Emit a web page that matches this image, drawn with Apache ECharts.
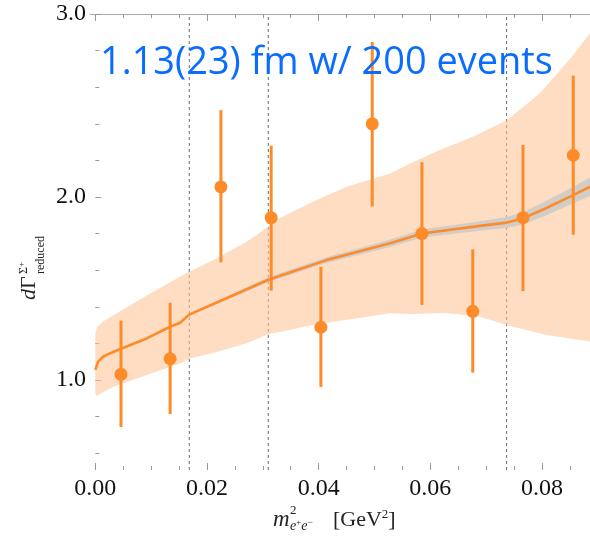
<!DOCTYPE html>
<html>
<head>
<meta charset="utf-8">
<script src="https://cdn.jsdelivr.net/npm/echarts@6/dist/echarts.min.js"></script>
<style>
html,body{margin:0;padding:0;background:#fff;}
#chart{width:590px;height:538px;}
</style>
</head>
<body>
<div id="chart"></div>
<script>
// ---- data ----
const titleText = '1.13(23) fm w/ 200 events';
const ptX = [0.0046, 0.0134, 0.0225, 0.0315, 0.0404, 0.0496, 0.0585, 0.0676, 0.0766, 0.0856];
const ptY = [1.031, 1.116, 2.055, 1.887, 1.288, 2.40, 1.80, 1.375, 1.887, 2.228];
const errHi = [1.324, 1.422, 2.475, 2.28, 1.619, 2.847, 2.19, 1.714, 2.284, 2.663];
const errLo = [0.743, 0.814, 1.643, 1.488, 0.962, 1.948, 1.41, 1.04, 1.486, 1.794];

const lineX = [0, 0.0005, 0.0014, 0.0026, 0.0046, 0.0092, 0.0134, 0.0152, 0.0168, 0.0241, 0.0310, 0.0414, 0.0528, 0.0585, 0.0689, 0.0737, 0.0766, 0.0808, 0.0856, 0.0886];
const lineY = [1.055, 1.10, 1.127, 1.145, 1.171, 1.227, 1.291, 1.313, 1.357, 1.455, 1.548, 1.655, 1.747, 1.80, 1.842, 1.86, 1.883, 1.94, 2.01, 2.056];
const grayUpper = [1.059, 1.104, 1.131, 1.149, 1.175, 1.231, 1.295, 1.317, 1.363, 1.465, 1.561, 1.671, 1.767, 1.822, 1.868, 1.89, 1.917, 1.98, 2.056, 2.106];
const grayLower = [1.051, 1.096, 1.123, 1.141, 1.167, 1.223, 1.287, 1.309, 1.351, 1.445, 1.535, 1.639, 1.727, 1.778, 1.816, 1.83, 1.849, 1.90, 1.964, 2.006];

const bandUpX = [0, 0.0003, 0.0014, 0.0092, 0.0152, 0.0168, 0.0212, 0.0271, 0.0310, 0.0318, 0.0390, 0.0450, 0.0528, 0.0566, 0.0617, 0.0677, 0.0737, 0.0796, 0.0856, 0.0886];
const bandUpY = [1.25, 1.29, 1.32, 1.462, 1.565, 1.592, 1.656, 1.756, 1.838, 1.866, 1.974, 2.056, 2.129, 2.186, 2.257, 2.33, 2.42, 2.566, 2.776, 2.895];
const bandLoX = [0, 0.0003, 0.0032, 0.0092, 0.0152, 0.0170, 0.0211, 0.0271, 0.0310, 0.0390, 0.0528, 0.0569, 0.0629, 0.0689, 0.0737, 0.0808, 0.0886];
const bandLoY = [0.925, 0.912, 0.963, 1.027, 1.09, 1.118, 1.147, 1.20, 1.25, 1.30, 1.364, 1.36, 1.366, 1.346, 1.30, 1.246, 1.21];

const dashedX = [0.01683, 0.03098, 0.07366];

const xMajor = [0, 0.02, 0.04, 0.06, 0.08];
const xMinor = [0.005, 0.01, 0.015, 0.025, 0.03, 0.035, 0.045, 0.05, 0.055, 0.065, 0.07, 0.075, 0.085];
const yMajor = [1, 2, 3];
const yMinor = [0.6, 0.8, 1.2, 1.4, 1.6, 1.8, 2.2, 2.4, 2.6, 2.8];

// ---- layout ----
const X_MIN = -0.00095, X_MAX = 0.0886;
const Y_MIN = 0.508, Y_MAX = 3.0;
const ORANGE = '#fd8b2a';
const SERIF = '"Liberation Serif", "DejaVu Serif", serif';

function bandSeries(upX, upY, loX, loY, fill, z) {
  return {
    type: 'custom', z: z, silent: true, clip: true,
    data: [[upX[0], upY[0]]],
    renderItem: function (params, api) {
      const pts = [];
      for (let i = 0; i < upX.length; i++) pts.push(api.coord([upX[i], upY[i]]));
      for (let i = loX.length - 1; i >= 0; i--) pts.push(api.coord([loX[i], loY[i]]));
      return { type: 'polygon', shape: { points: pts }, style: { fill: fill } };
    }
  };
}

function xAxisDef(pos, ticks, len, withLabels, withLine) {
  return {
    type: 'value', gridIndex: 0, position: pos, min: X_MIN, max: X_MAX,
    axisLine: { show: withLine, lineStyle: { color: '#aaa', width: 1 } },
    axisTick: { show: true, inside: true, length: len, customValues: ticks, lineStyle: { color: '#999', width: 1 } },
    axisLabel: withLabels ? {
      show: true, customValues: ticks, margin: 7,
      formatter: v => Number(v).toFixed(2),
      fontFamily: SERIF, fontSize: 24, color: '#111'
    } : { show: false },
    splitLine: { show: false }
  };
}
function yAxisDef(ticks, len, withLabels) {
  return {
    type: 'value', gridIndex: 0, position: 'left', min: Y_MIN, max: Y_MAX,
    axisLine: { show: false },
    axisTick: { show: true, inside: true, length: len, customValues: ticks, lineStyle: { color: '#999', width: 1 } },
    axisLabel: withLabels ? {
      show: true, customValues: ticks, margin: 4,
      formatter: v => Number(v).toFixed(1),
      fontFamily: SERIF, fontSize: 24, color: '#111'
    } : { show: false },
    splitLine: { show: false }
  };
}

// fit title font to measured width
let titleSize = 38;
try {
  const c = document.createElement('canvas').getContext('2d');
  c.font = '100px "Open Sans"';
  const w = c.measureText(titleText).width;
  if (w > 0) titleSize = 100 * 453 / w;
} catch (e) {}

const chart = echarts.init(document.getElementById('chart'), null, { renderer: 'canvas' });
chart.setOption({
  animation: false,
  backgroundColor: '#fff',
  grid: { left: 90, top: 14, right: 0, bottom: 68, containLabel: false },
  xAxis: [
    xAxisDef('bottom', xMajor, 7, true, false),
    xAxisDef('bottom', xMinor, 4, false, false),
    xAxisDef('top', xMajor, 7, false, true),
    xAxisDef('top', xMinor, 4, false, false)
  ],
  yAxis: [
    yAxisDef(yMajor, 6, true),
    yAxisDef(yMinor, 4, false)
  ],
  series: [
    {
      type: 'custom', z: 1, silent: true, clip: true,
      data: dashedX.map(v => [v]),
      renderItem: function (params, api) {
        const a = api.coord([api.value(0), Y_MIN]);
        const b = api.coord([api.value(0), Y_MAX]);
        return { type: 'line', shape: { x1: a[0], y1: a[1], x2: b[0], y2: b[1] },
                 style: { stroke: '#6a6a6a', lineWidth: 1, lineDash: [3, 3] } };
      }
    },
    bandSeries(bandUpX, bandUpY, bandLoX, bandLoY, 'rgba(253,197,150,0.58)', 2),
    bandSeries(lineX, grayUpper, lineX, grayLower, '#d3cdc8', 3),
    {
      type: 'line', z: 4, silent: true, showSymbol: false,
      data: lineX.map((x, i) => [x, lineY[i]]),
      lineStyle: { color: ORANGE, width: 2.6 }
    },
    {
      type: 'custom', z: 5, silent: true,
      data: ptX.map((x, i) => [x, errLo[i], errHi[i]]),
      renderItem: function (params, api) {
        const a = api.coord([api.value(0), api.value(1)]);
        const b = api.coord([api.value(0), api.value(2)]);
        return { type: 'line', shape: { x1: a[0], y1: a[1], x2: b[0], y2: b[1] },
                 style: { stroke: ORANGE, lineWidth: 3 } };
      }
    },
    {
      type: 'scatter', z: 6, silent: true, symbol: 'circle', symbolSize: 13,
      data: ptX.map((x, i) => [x, ptY[i]]),
      itemStyle: { color: ORANGE, opacity: 1 }
    }
  ],
  graphic: [
    {
      type: 'text', left: 100, top: 44, z: 100, silent: true,
      style: { text: titleText, fontFamily: '"Open Sans", sans-serif', fontSize: titleSize, fill: '#0a6cff' }
    },
    // x axis title
    { type: 'text', x: 273, y: 520, silent: true,
      style: { text: 'm', fontFamily: SERIF, fontStyle: 'italic', fontSize: 23, fill: '#222', align: 'left', verticalAlign: 'middle' } },
    { type: 'text', x: 290, y: 511, silent: true,
      style: { text: '2', fontFamily: SERIF, fontSize: 13, fill: '#222', align: 'left', verticalAlign: 'middle' } },
    { type: 'text', x: 290, y: 526, silent: true,
      style: { text: '{a|e}{b|+}{a|e}{b|\u2212}', fill: '#222', align: 'left', verticalAlign: 'middle',
        rich: { a: { fontFamily: SERIF, fontStyle: 'italic', fontSize: 14, fill: '#222' },
                b: { fontFamily: SERIF, fontSize: 9, fill: '#222', padding: [0, 0, 6, 0] } } } },
    { type: 'text', x: 333, y: 520, silent: true,
      style: { text: '[GeV{s|2}]', fontFamily: SERIF, fontSize: 22, fill: '#222', align: 'left', verticalAlign: 'middle',
        rich: { s: { fontFamily: SERIF, fontSize: 13, fill: '#222', padding: [0, 0, 10, 0] } } } },
    // y axis title (rotated)
    {
      type: 'group', x: 30, y: 300, rotation: Math.PI / 2, silent: true,
      children: [
        { type: 'text', x: 0, y: -1,
          style: { text: 'd', fontFamily: SERIF, fontStyle: 'italic', fontSize: 22, fill: '#222', align: 'left', verticalAlign: 'middle' } },
        { type: 'text', x: 11, y: -1,
          style: { text: '\u0393', fontFamily: SERIF, fontSize: 22, fill: '#222', align: 'left', verticalAlign: 'middle' } },
        { type: 'text', x: 26, y: -6,
          style: { text: '{a|\u03A3}{b|+}', fill: '#222', align: 'left', verticalAlign: 'middle',
            rich: { a: { fontFamily: SERIF, fontSize: 12, fill: '#222' },
                    b: { fontFamily: SERIF, fontSize: 9, fill: '#222', padding: [0, 0, 5, 0] } } } },
        { type: 'text', x: 26, y: 11,
          style: { text: 'reduced', fontFamily: SERIF, fontSize: 12, fill: '#222', align: 'left', verticalAlign: 'middle' } }
      ]
    }
  ]
});
</script>
</body>
</html>
